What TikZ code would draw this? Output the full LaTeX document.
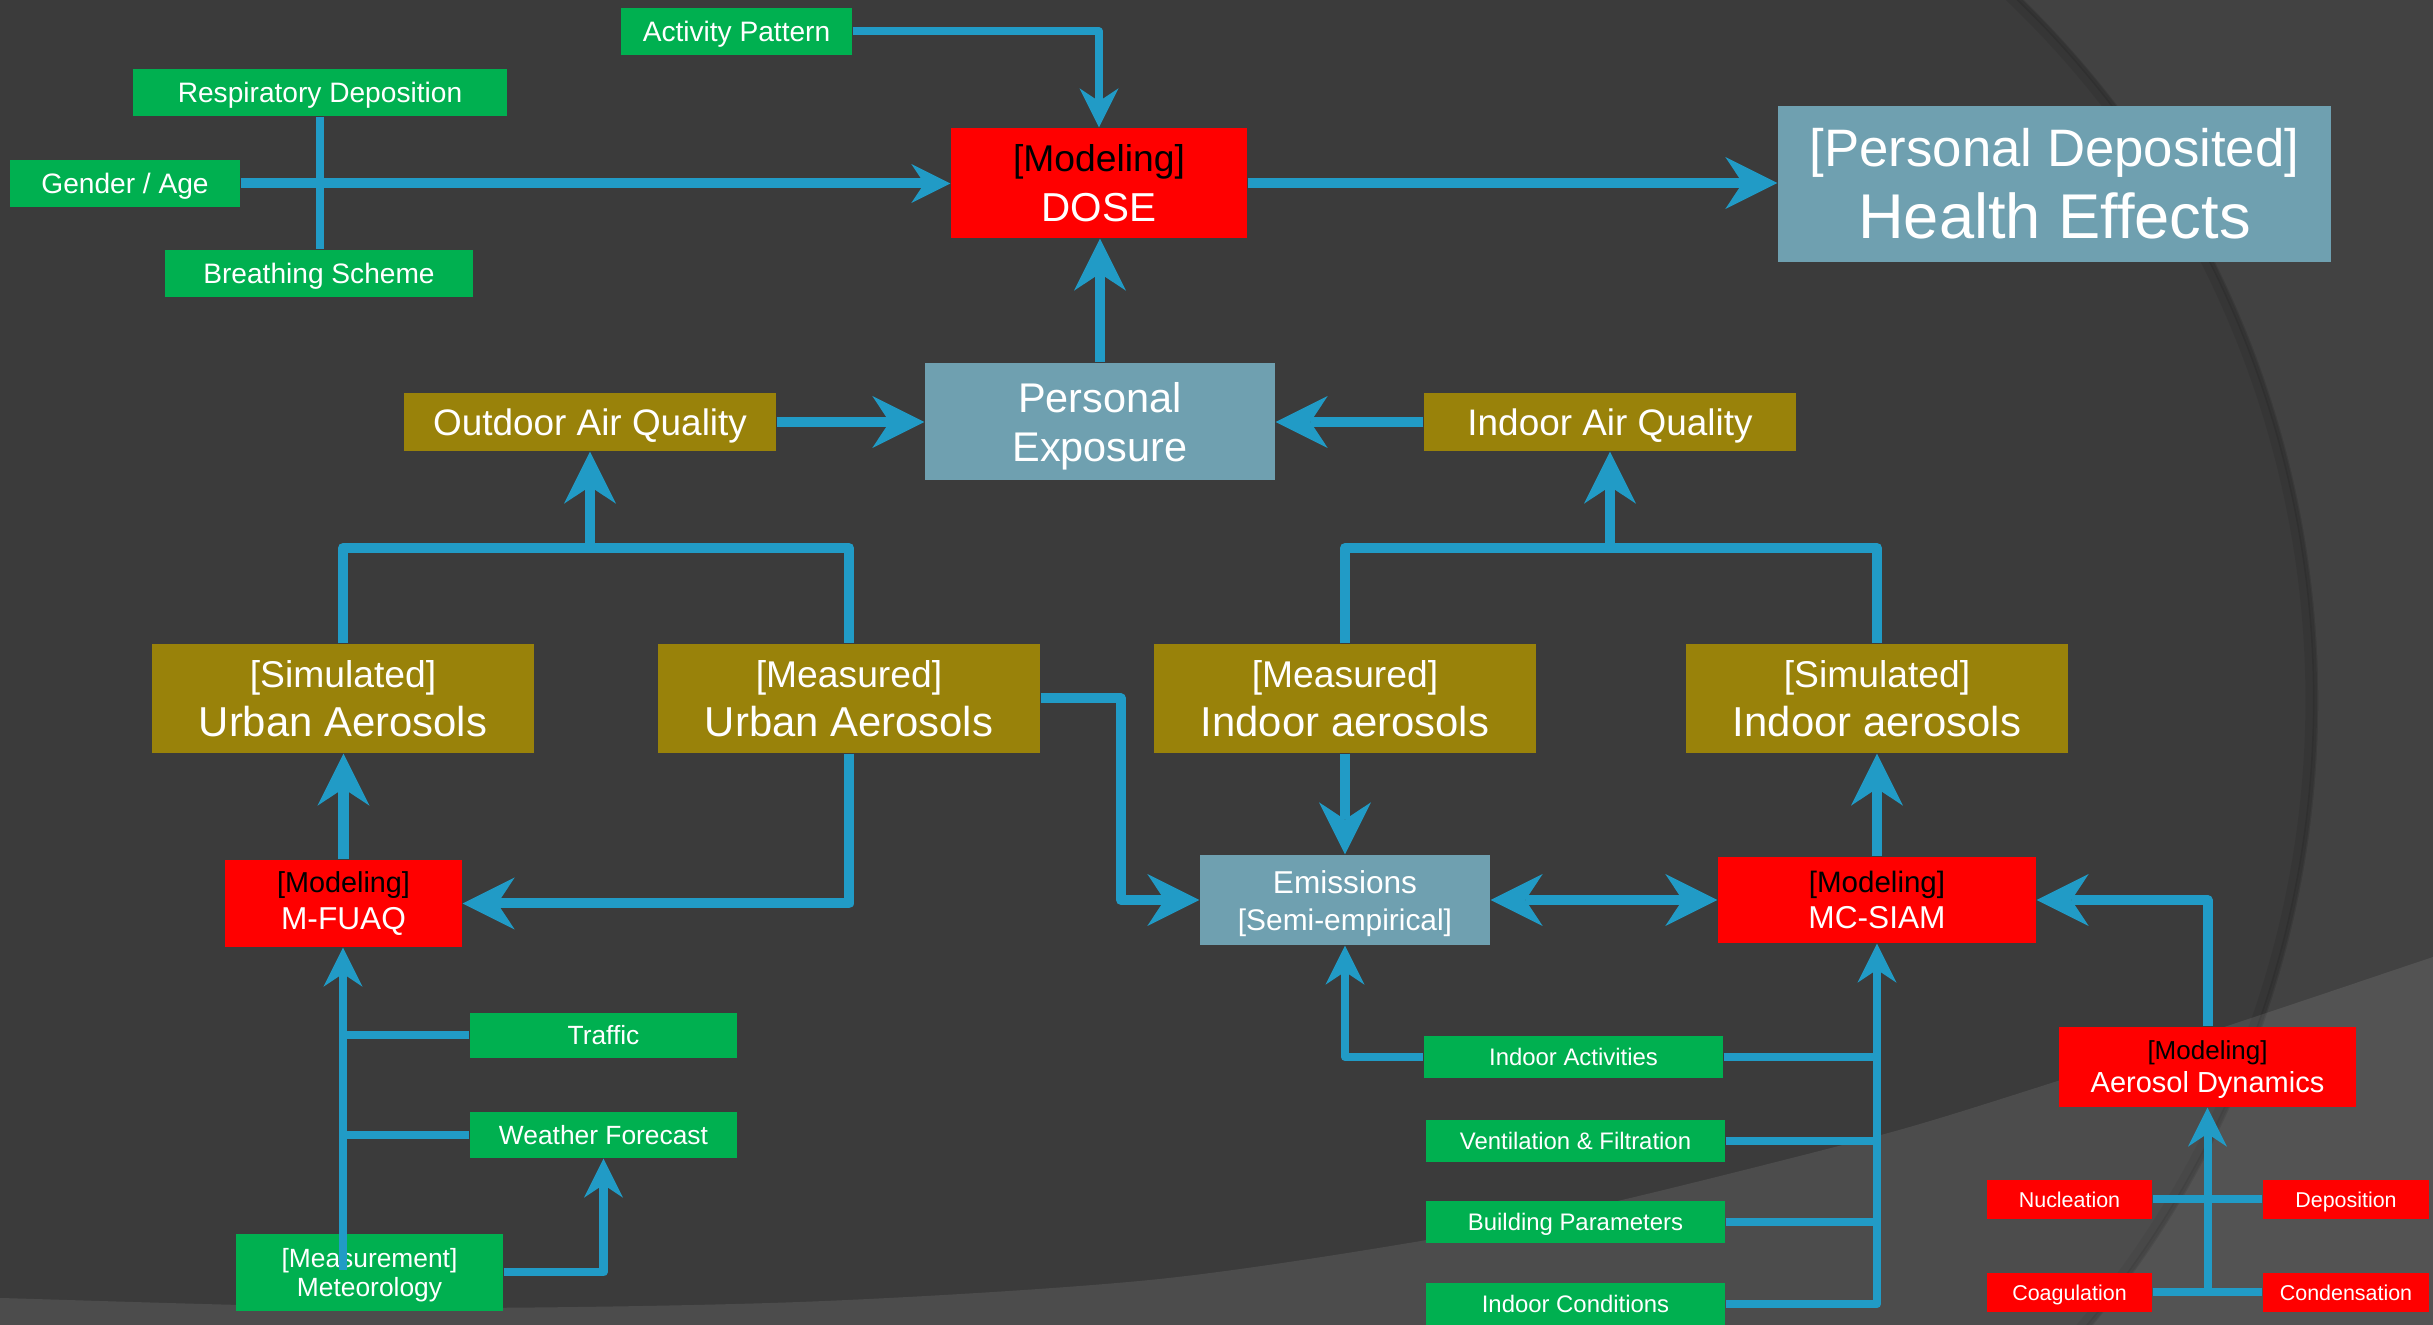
\documentclass[tikz,border=0pt]{standalone}
\usepackage{fontspec}
\setmainfont{Liberation Sans}
\usetikzlibrary{arrows.meta}
\definecolor{bgin}{RGB}{59,59,59}
\definecolor{bgout}{RGB}{66,66,66}
\definecolor{cgreen}{RGB}{0,176,80}
\definecolor{colive}{RGB}{153,130,10}
\definecolor{cred}{RGB}{255,0,0}
\definecolor{csteel}{RGB}{111,160,176}
\definecolor{cline}{RGB}{33,155,198}
\newcommand\FS[2]{\fontsize{#1}{#2}\selectfont}
\tikzset{
  BT/.tip={Stealth[length=14.8pt,width=14.8pt,inset=4.9pt,line width=0pt]},
  ST/.tip={Stealth[length=11.1pt,width=11.1pt,inset=3.7pt,line width=0pt]},
  basebox/.style={inner sep=0pt, align=center, text=white},
  gbox/.style={basebox, fill=cgreen},
  obox/.style={basebox, fill=colive},
  rbox/.style={basebox, fill=cred},
  sbox/.style={basebox, fill=csteel},
  oneline/.style={text height=#1, text depth=0pt},
  bigarrow/.style={draw=cline, line width=2.85pt, line join=round, -BT},
  smallarrow/.style={draw=cline, line width=2.28pt, line join=round, -ST},
  plainline/.style={draw=cline, line width=2.28pt, line join=round},
}
\begin{document}
\begin{tikzpicture}[x=0.1mm,y=-0.1mm]
\useasboundingbox (0,0) rectangle (2433,1325);
% background
\begin{scope}
\clip (0,0) rectangle (2433,1325);
\fill[bgin] (0,0) rectangle (2433,1325);
\fill[bgout] (2024,0) arc[start angle=-45.6, end angle=39.7, radius=980] -- (2433,1325) -- (2433,0) -- cycle;
\draw[black, opacity=0.07, line width=2.6pt] (1338,700) ++(-50:972) arc[start angle=-50, end angle=45, radius=972];
\draw[black, opacity=0.10, line width=1.2pt] (1338,700) ++(-50:977) arc[start angle=-50, end angle=45, radius=977];
\fill[white, opacity=0.09] plot[smooth] coordinates {(-10,1297) (0,1298) (400,1308) (800,1302) (1150,1280) (1427,1240) (1609,1203) (1831,1148) (1950,1115) (2200,1035) (2433,957) (2445,953)} -- (2445,1340) -- (-10,1340) -- cycle;
\end{scope}

% nodes
\node[gbox, oneline=5.73pt, minimum width=23.1mm, minimum height=4.7mm, font=\FS{8}{9.6}] (act) at (736.5,31.5) {Activity Pattern};
\node[gbox, oneline=5.73pt, minimum width=37.4mm, minimum height=4.7mm, font=\FS{8}{9.6}] (resp) at (320,92.5) {Respiratory Deposition};
\node[gbox, oneline=5.73pt, minimum width=23.0mm, minimum height=4.7mm, font=\FS{8}{9.6}] (gender) at (125,183.5) {Gender / Age};
\node[gbox, oneline=5.73pt, minimum width=30.8mm, minimum height=4.7mm, font=\FS{8}{9.6}] (breath) at (319,273.5) {Breathing Scheme};
\node[rbox, minimum width=29.6mm, minimum height=11.0mm, font=\FS{11.5}{14.2}] (dose) at (1099,183) {{\FS{10.6}{14.2}\color{black}[Modeling]}\\DOSE};
\node[sbox, minimum width=55.3mm, minimum height=15.6mm, font=\FS{18}{20.5}] (health) at (2054.5,184) {{\FS{15}{20.5}[Personal Deposited]}\\Health Effects};
\node[sbox, minimum width=35.0mm, minimum height=11.7mm, font=\FS{11.8}{14.2}] (pers) at (1100,421.5) {\rule{0pt}{11.3pt}Personal\\Exposure};
\node[obox, oneline=7.52pt, minimum width=37.2mm, minimum height=5.8mm, font=\FS{10.5}{12.6}] (outaq) at (590,422) {Outdoor Air Quality};
\node[obox, oneline=7.52pt, minimum width=37.2mm, minimum height=5.8mm, font=\FS{10.5}{12.6}] (inaq) at (1610,422) {Indoor Air Quality};
\node[obox, minimum width=38.2mm, minimum height=10.9mm, font=\FS{11.9}{14.1}] (simurb) at (343,698.5) {{\FS{10.6}{14.1}[Simulated]}\\Urban Aerosols};
\node[obox, minimum width=38.2mm, minimum height=10.9mm, font=\FS{11.9}{14.1}] (measurb) at (849,698.5) {{\FS{10.6}{14.1}[Measured]}\\Urban Aerosols};
\node[obox, minimum width=38.2mm, minimum height=10.9mm, font=\FS{11.9}{14.1}] (measin) at (1345,698.5) {{\FS{10.6}{14.1}[Measured]}\\Indoor aerosols};
\node[obox, minimum width=38.2mm, minimum height=10.9mm, font=\FS{11.9}{14.1}] (simin) at (1877,698.5) {{\FS{10.6}{14.1}[Simulated]}\\Indoor aerosols};
\node[rbox, minimum width=23.7mm, minimum height=8.7mm, font=\FS{9}{10.5}] (mfuaq) at (343.5,903.5) {{\FS{8.2}{10.5}\color{black}[Modeling]}\\M-FUAQ};
\node[sbox, minimum width=29.0mm, minimum height=9.0mm, font=\FS{9}{10.5}] (emis) at (1345,900) {\rule{0pt}{8.4pt}Emissions\\{\FS{8.5}{10.5}[Semi-empirical]}};
\node[rbox, minimum width=31.8mm, minimum height=8.6mm, font=\FS{9}{10.5}] (mcsiam) at (1877,900) {{\FS{8.4}{10.5}\color{black}[Modeling]}\\MC-SIAM};
\node[rbox, minimum width=29.7mm, minimum height=8.0mm, font=\FS{8.25}{9.4}] (aerodyn) at (2207.5,1067) {{\FS{7.4}{9.4}\color{black}\rule{0pt}{7.1pt}[Modeling]}\\Aerosol Dynamics};
\node[rbox, oneline=4.37pt, minimum width=16.5mm, minimum height=3.9mm, font=\FS{6.1}{7.3}] (nuc) at (2069.5,1199.5) {Nucleation};
\node[rbox, oneline=4.37pt, minimum width=16.6mm, minimum height=3.9mm, font=\FS{6.1}{7.3}] (dep) at (2346,1199.5) {Deposition};
\node[rbox, oneline=4.37pt, minimum width=16.5mm, minimum height=3.9mm, font=\FS{6.1}{7.3}] (coag) at (2069.5,1292.5) {Coagulation};
\node[rbox, oneline=4.37pt, minimum width=16.6mm, minimum height=3.9mm, font=\FS{6.1}{7.3}] (cond) at (2346,1292.5) {Condensation};
\node[gbox, oneline=5.37pt, minimum width=26.7mm, minimum height=4.5mm, font=\FS{7.5}{9}] (traffic) at (603.5,1035.5) {Traffic};
\node[gbox, oneline=5.37pt, minimum width=26.7mm, minimum height=4.6mm, font=\FS{7.5}{9}] (weather) at (603.5,1135) {Weather Forecast};
\node[gbox, minimum width=26.7mm, minimum height=7.7mm, font=\FS{7.5}{8.5}] (meteo) at (369.5,1272.5) {\rule{0pt}{7pt}[Measurement]\\Meteorology};
\node[gbox, oneline=4.87pt, minimum width=29.9mm, minimum height=4.2mm, font=\FS{6.8}{8.2}] (indact) at (1573.5,1057) {Indoor Activities};
\node[gbox, oneline=4.87pt, minimum width=29.9mm, minimum height=4.2mm, font=\FS{6.8}{8.2}] (vent) at (1575.5,1141) {Ventilation \& Filtration};
\node[gbox, oneline=4.87pt, minimum width=29.9mm, minimum height=4.2mm, font=\FS{6.8}{8.2}] (build) at (1575.5,1222) {Building Parameters};
\node[gbox, oneline=4.87pt, minimum width=29.9mm, minimum height=4.2mm, font=\FS{6.8}{8.2}] (indcond) at (1575.5,1304) {Indoor Conditions};

% connectors: dose area
\draw[smallarrow] (act.east) -| (dose.north);
\draw[smallarrow, line width=2.85pt] (gender.east) -- (gender.east -| dose.west);
\draw[plainline, line width=2pt] (resp.south) -- (resp.south |- breath.north);
\draw[bigarrow] (dose.east) -- (dose.east -| health.west);
\draw[bigarrow] (pers.north) -- (pers.north |- dose.south);
\draw[bigarrow] (outaq.east) -- (outaq.east -| pers.west);
\draw[bigarrow] (inaq.west) -- (inaq.west -| pers.east);
% trees
\coordinate (jo) at (590,548);
\coordinate (ji) at (1610,548);
\draw[plainline, line width=2.85pt] (simurb.north) |- (jo) -| (measurb.north);
\draw[bigarrow] (jo) -- (outaq.south);
\draw[plainline, line width=2.85pt] (measin.north) |- (ji) -| (simin.north);
\draw[bigarrow] (ji) -- (inaq.south);
% urban
\draw[bigarrow] (mfuaq.north) -- (mfuaq.north |- simurb.south);
\draw[bigarrow] (measurb.south) |- (mfuaq.east);
\coordinate (mu) at (1121,0);
\draw[bigarrow] (measurb.east) -| (mu |- emis.west) -- (emis.west);
% indoor
\draw[bigarrow] (measin.south) -- (emis.north);
\draw[bigarrow, BT-BT] (emis.east) -- (mcsiam.west);
\draw[bigarrow] (mcsiam.north) -- (simin.south);
\draw[bigarrow] (aerodyn.north) |- (mcsiam.east);
% aerosol dynamics inputs
\draw[plainline] (nuc.east) -- (dep.west);
\draw[plainline] (coag.east) -- (cond.west);
\draw[smallarrow] (aerodyn.south |- coag.east) -- (aerodyn.south);
% M-FUAQ inputs
\coordinate (mb) at (343,1270);
\draw[plainline] (traffic.west) -- (traffic.west -| mb);
\draw[plainline] (weather.west) -- (weather.west -| mb);
\draw[smallarrow] (mb) -- (mb |- mfuaq.south);
\draw[smallarrow] (meteo.east) -| (weather.south);
% MC-SIAM / Emissions inputs
\draw[smallarrow] (indact.west) -| (emis.south);
\draw[plainline] (indact.east) -- (indact.east -| mcsiam.south);
\draw[plainline] (vent.east) -- (vent.east -| mcsiam.south);
\draw[plainline] (build.east) -- (build.east -| mcsiam.south);
\draw[smallarrow] (indcond.east) -| (mcsiam.south);
\end{tikzpicture}
\end{document}
